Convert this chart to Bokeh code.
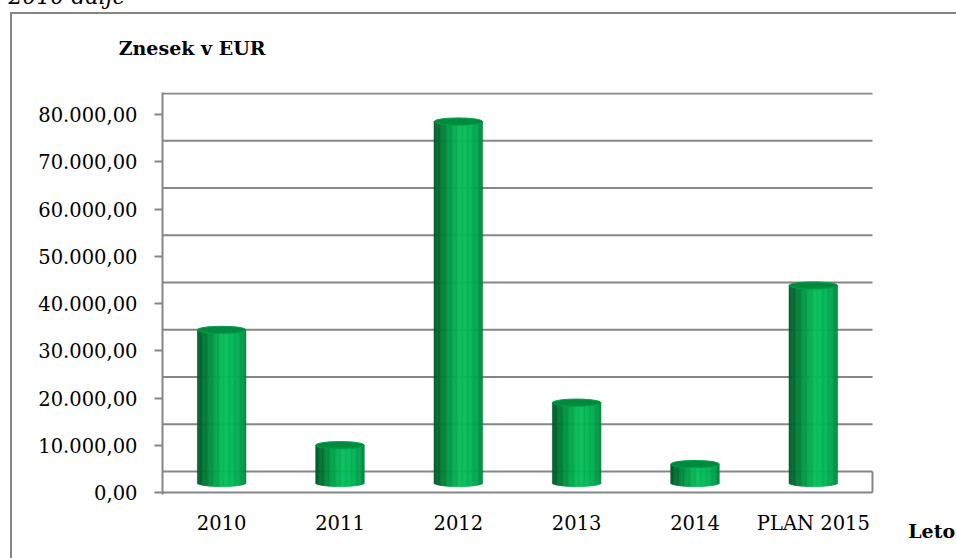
import numpy as np
from bokeh.plotting import figure
from bokeh.models import Range1d, FixedTicker, Title, LinearAxis
from bokeh.embed import file_html
from bokeh.resources import INLINE

# ---- data ----
categories = ["2010", "2011", "2012", "2013", "2014", "PLAN 2015"]
values = [32400, 8000, 76500, 17000, 4000, 41800]
y_ticks = [0, 10000, 20000, 30000, 40000, 50000, 60000, 70000, 80000]
y_tick_labels = ["0,00", "10.000,00", "20.000,00", "30.000,00", "40.000,00",
                 "50.000,00", "60.000,00", "70.000,00", "80.000,00"]
y_title = "Znesek v EUR"
x_title = "Leto"
caption = "2010 dalje"

# ---- geometry / style ----
K = 60                      # hidden strip above the page (canvas shifted up by K)
W, H = 956, 558 + K
FL, FT = 162, 92            # page px
FB = 494                    # frame bottom (page px)
Y0PX = 492                  # page px of value 0 (front floor edge)
CATW = (872 - FL) / len(categories)
PXV = 10000.0 / 47.25       # data units per px
YTOP = (Y0PX - FT) * PXV
YBOT = (Y0PX - FB) * PXV
XEND = (W - FL) / CATW
NCAT = len(categories)

GRID = "#868686"
BACK = 21 * PXV
BASE = 9.5 * PXV
ELL_B = 3.6 * PXV
HALF_W = 0.205

p = figure(width=W, height=H, x_range=Range1d(0, XEND), y_range=Range1d(YBOT, YTOP),
           output_backend="svg", toolbar_location=None,
           min_border_left=FL, min_border_right=0,
           min_border_top=FT + K, min_border_bottom=H - (FB + K))
p.outline_line_color = None
p.xgrid.visible = False
p.ygrid.visible = False
p.background_fill_color = "white"
p.border_fill_color = None
p.styles = {"margin-top": "-%dpx" % K,
            "background":
            "linear-gradient(#868686,#868686) 10px %dpx / 2px 100%% no-repeat, "
            "linear-gradient(#868686,#868686) 10px %dpx / 100%% 2px no-repeat, white"
            % (12 + K, 12 + K)}

# back wall gridlines + floor
gy = [t + BACK for t in y_ticks]
p.segment(x0=[0] * len(gy), x1=[NCAT] * len(gy), y0=gy, y1=gy,
          line_color=GRID, line_width=2)
p.segment(x0=[0, NCAT], x1=[NCAT, NCAT], y0=[0, 0], y1=[0, BACK],
          line_color=GRID, line_width=2)

# cylinders
stops_pos = [0.0, 0.12, 0.3, 0.55, 0.75, 0.92, 1.0]
stops_col = [(0, 88, 40), (0, 112, 50), (0, 150, 68), (8, 190, 90),
             (2, 182, 86), (0, 160, 75), (0, 135, 62)]
N = 40
L, R, B, T, C = [], [], [], [], []
for i, v in enumerate(values):
    cx = i + 0.5
    for k in range(N):
        u0 = -1 + 2 * k / N
        u1 = u0 + 2 / N
        uc = (u0 + u1) / 2
        t = (uc + 1) / 2
        col = tuple(int(np.interp(t, stops_pos, [c[j] for c in stops_col])) for j in range(3))
        dy = ELL_B * np.sqrt(max(0.0, 1 - uc * uc))
        L.append(cx + u0 * HALF_W)
        R.append(cx + u1 * HALF_W)
        B.append(BASE - dy)
        T.append(BASE + v)
        C.append("#%02x%02x%02x" % col)
p.quad(left=L, right=R, bottom=B, top=T, fill_color=C, line_color=C, line_width=0.6)

xc = [i + 0.5 for i in range(NCAT)]
tops = [BASE + v for v in values]
p.ellipse(x=xc, y=tops, width=2 * HALF_W, height=2 * ELL_B,
          fill_color="#008a3e", line_color="#00a04a", line_width=1)

# y axis
p.yaxis.ticker = FixedTicker(ticks=y_ticks)
p.yaxis.major_label_overrides = {t: s for t, s in zip(y_ticks, y_tick_labels)}
p.yaxis.axis_line_color = GRID
p.yaxis.axis_line_width = 2
p.yaxis.major_tick_line_color = GRID
p.yaxis.major_tick_line_width = 2
p.yaxis.major_tick_out = 8
p.yaxis.major_tick_in = 0
p.yaxis.minor_tick_line_color = None
p.yaxis.major_label_standoff = 17
p.yaxis.major_label_text_font = "DejaVu Serif"
p.yaxis.major_label_text_font_size = "19.5px"
p.yaxis.major_label_text_color = "black"

# x axis (categories)
p.xaxis.ticker = FixedTicker(ticks=xc)
p.xaxis.major_label_overrides = {x: c for x, c in zip(xc, categories)}
p.xaxis.axis_line_color = None
p.xaxis.major_tick_line_color = None
p.xaxis.minor_tick_line_color = None
p.xaxis.major_tick_out = 0
p.xaxis.major_label_standoff = 17
p.xaxis.major_label_text_font = "DejaVu Serif"
p.xaxis.major_label_text_font_size = "19.5px"
p.xaxis.major_label_text_color = "black"

# x-axis title "Leto" as a second bottom axis
leto_x = NCAT + 0.5
ax_leto = LinearAxis(ticker=FixedTicker(ticks=[leto_x]),
                     major_label_overrides={leto_x: x_title},
                     axis_line_color=None, major_tick_line_color=None,
                     minor_tick_line_color=None, major_tick_out=0,
                     major_label_standoff=-18,
                     major_label_text_font="DejaVu Serif",
                     major_label_text_font_style="bold",
                     major_label_text_font_size="19px",
                     major_label_text_color="black")
p.add_layout(ax_leto, "below")

# y-axis title as a top axis label
yt_x = 0.25
ax_yt = LinearAxis(ticker=FixedTicker(ticks=[yt_x]),
                   major_label_overrides={yt_x: y_title},
                   axis_line_color=None, major_tick_line_color=None,
                   minor_tick_line_color=None, major_tick_out=0,
                   major_label_standoff=34,
                   major_label_text_font="DejaVu Serif",
                   major_label_text_font_style="bold",
                   major_label_text_font_size="19px",
                   major_label_text_color="black")
p.add_layout(ax_yt, "above")

# caption, mostly above the visible page (as in the reference)
p.add_layout(Title(text=caption, align="left", offset=8 - FL, standoff=50,
                   text_font="DejaVu Serif", text_font_style="italic",
                   text_font_size="22px", text_color="black"), "above")

open("out.html", "w").write(file_html(p, INLINE))
